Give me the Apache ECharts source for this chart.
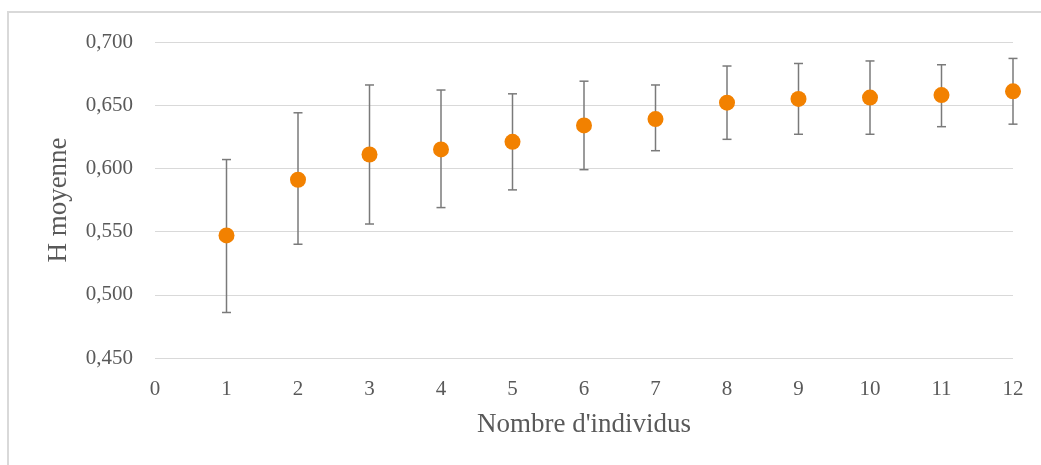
<!DOCTYPE html>
<html>
<head>
<meta charset="utf-8">
<script src="https://cdn.jsdelivr.net/npm/echarts@6/dist/echarts.min.js"></script>
<style>
html,body{margin:0;padding:0;background:#fff;}
#frame{position:absolute;left:7px;top:11px;width:1100px;height:500px;border-top:2px solid #d9d9d9;border-left:2px solid #d9d9d9;}
#chart{position:absolute;left:0;top:0;width:1041px;height:465px;}
</style>
</head>
<body>
<div id="frame"></div>
<div id="chart"></div>
<script>
var individus = [1, 2, 3, 4, 5, 6, 7, 8, 9, 10, 11, 12];
var hMoyenne = [0.547, 0.591, 0.611, 0.615, 0.621, 0.634, 0.639, 0.652, 0.655, 0.656, 0.658, 0.661];
var hHaut = [0.607, 0.644, 0.666, 0.662, 0.659, 0.669, 0.666, 0.681, 0.683, 0.685, 0.682, 0.687];
var hBas = [0.486, 0.540, 0.556, 0.569, 0.583, 0.599, 0.614, 0.623, 0.627, 0.627, 0.633, 0.635];
var yTickLabels = ['0,450', '0,500', '0,550', '0,600', '0,650', '0,700'];
var xTickLabels = ['0', '1', '2', '3', '4', '5', '6', '7', '8', '9', '10', '11', '12'];

var points = individus.map(function (x, i) { return [x, hMoyenne[i]]; });
var bars = individus.map(function (x, i) { return [x, hBas[i], hHaut[i]]; });

var chart = echarts.init(document.getElementById('chart'));
var font = "'Liberation Serif', 'Times New Roman', serif";
chart.setOption({
  animation: false,
  grid: { left: 155, right: 28, top: 42, bottom: 107 },
  xAxis: {
    type: 'value', min: 0, max: 12, interval: 1,
    name: "Nombre d'individus", nameLocation: 'middle', nameGap: 53,
    nameTextStyle: { fontFamily: font, fontSize: 27, color: '#595959' },
    axisLine: { show: false }, axisTick: { show: false }, splitLine: { show: false },
    axisLabel: { fontFamily: font, fontSize: 21, color: '#595959', margin: 21,
      formatter: function (v) { return xTickLabels[Math.round(v)]; } }
  },
  yAxis: {
    type: 'value', min: 0.45, max: 0.70, interval: 0.05,
    name: 'H moyenne', nameLocation: 'middle', nameGap: 83, nameRotate: 90,
    nameTextStyle: { fontFamily: font, fontSize: 27, color: '#595959' },
    axisLine: { show: false }, axisTick: { show: false },
    splitLine: { lineStyle: { color: '#d9d9d9', width: 1 } },
    axisLabel: { fontFamily: font, fontSize: 21, color: '#595959', margin: 22,
      formatter: function (v) { return yTickLabels[Math.round((v - 0.45) / 0.05)]; } }
  },
  series: [
    {
      type: 'custom',
      data: bars,
      z: 2,
      renderItem: function (params, api) {
        var x = api.value(0);
        var lo = api.coord([x, api.value(1)]);
        var hi = api.coord([x, api.value(2)]);
        var w = 4.5;
        var style = { stroke: '#7a7a7a', lineWidth: 1.5 };
        return {
          type: 'group',
          children: [
            { type: 'line', shape: { x1: lo[0], y1: lo[1], x2: hi[0], y2: hi[1] }, style: style },
            { type: 'line', shape: { x1: lo[0] - w, y1: lo[1], x2: lo[0] + w, y2: lo[1] }, style: style },
            { type: 'line', shape: { x1: hi[0] - w, y1: hi[1], x2: hi[0] + w, y2: hi[1] }, style: style }
          ]
        };
      }
    },
    {
      type: 'scatter',
      data: points,
      z: 3,
      symbol: 'circle',
      symbolSize: 16,
      itemStyle: { color: '#f28100', opacity: 1 }
    }
  ]
});
</script>
</body>
</html>
